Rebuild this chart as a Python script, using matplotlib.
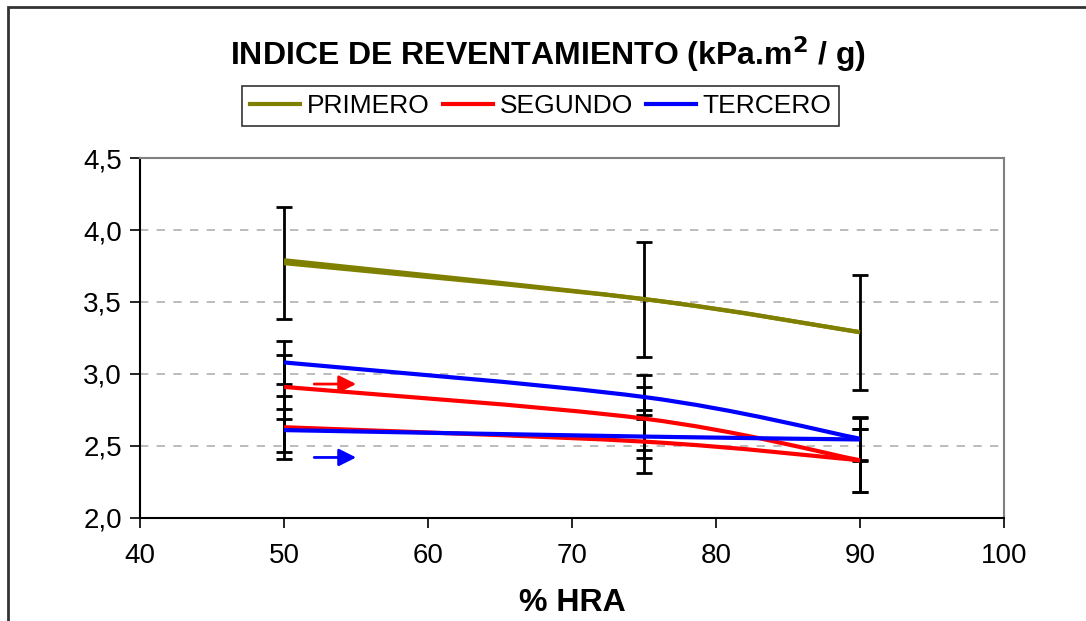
import matplotlib
matplotlib.use("Agg")
import matplotlib.pyplot as plt
from matplotlib.path import Path
from matplotlib.patches import PathPatch, Rectangle
from matplotlib.lines import Line2D

plt.rcParams['font.family'] = ['Liberation Sans', 'DejaVu Sans']

# % HRA
hra = [50, 75, 90]

# each series has two curves (ida / vuelta)
primero_a = [3.79, 3.52, 3.29]
primero_b = [3.77, 3.52, 3.29]
segundo_a = [2.91, 2.69, 2.40]
segundo_b = [2.63, 2.53, 2.40]
tercero_a = [3.08, 2.84, 2.55]
tercero_b = [2.61, 2.565, 2.545]

err_primero = [0.39, 0.40, 0.40]
err_segundo = [0.22, 0.22, 0.22]
err_tercero = [0.15, 0.15, 0.15]

series = [
    ("PRIMERO", "#808000", [primero_a, primero_b], err_primero),
    ("SEGUNDO", "#ff0000", [segundo_a, segundo_b], err_segundo),
    ("TERCERO", "#0000ff", [tercero_a, tercero_b], err_tercero),
]


def smooth_path(xs, ys):
    # curva suavizada tipo Excel (bezier por los puntos)
    pts = list(zip(xs, ys))
    verts = [pts[0]]
    codes = [Path.MOVETO]
    n = len(pts)
    for i in range(n - 1):
        p0 = pts[i - 1] if i > 0 else pts[i]
        p1 = pts[i]
        p2 = pts[i + 1]
        p3 = pts[i + 2] if i + 2 < n else pts[i + 1]
        c1 = (p1[0] + (p2[0] - p0[0]) / 6, p1[1] + (p2[1] - p0[1]) / 6)
        c2 = (p2[0] - (p3[0] - p1[0]) / 6, p2[1] - (p3[1] - p1[1]) / 6)
        verts += [c1, c2, p2]
        codes += [Path.CURVE4] * 3
    return Path(verts, codes)


fig = plt.figure(figsize=(10.86, 6.21), dpi=100)
ax = fig.add_axes([0.129, 0.166, 0.7955, 0.5795])

# barras de error (la de PRIMERO solo una vez)
for name, color, curves, err in series:
    ax.errorbar(hra, curves[-1], yerr=err, fmt='none', ecolor='black',
                elinewidth=2, capsize=6, capthick=2, zorder=2)
    if name != "PRIMERO":
        ax.errorbar(hra, curves[0], yerr=err, fmt='none', ecolor='black',
                    elinewidth=2, capsize=6, capthick=2, zorder=2)
for name, color, curves, err in series:
    for ys in curves:
        ax.add_patch(PathPatch(smooth_path(hra, ys), fill=False,
                               edgecolor=color, lw=3, zorder=3))

ax.set_xlim(40, 100)
ax.set_ylim(2.0, 4.5)
ax.set_xticks([40, 50, 60, 70, 80, 90, 100])
ax.set_yticks([2.0, 2.5, 3.0, 3.5, 4.0, 4.5])
ax.set_yticklabels(["2,0", "2,5", "3,0", "3,5", "4,0", "4,5"])
ax.tick_params(axis='both', labelsize=20, length=7, width=1.2, direction='out')
ax.tick_params(axis='y', pad=6)
ax.tick_params(axis='x', pad=11)
for v in [2.5, 3.0, 3.5, 4.0]:
    ax.axhline(v, color='#b0b0b0', lw=1.2, ls=(0, (5, 5)), zorder=1)
for s in ax.spines.values():
    s.set_linewidth(1.5)
    s.set_color('black')
ax.spines['top'].set_color('#808080')
ax.spines['right'].set_color('#808080')

ax.set_xlabel("% HRA", fontsize=23, fontweight='bold', labelpad=14)

# flechas de sentido
ax.annotate("", xy=(55.2, 2.93), xytext=(51.9, 2.93),
            arrowprops=dict(arrowstyle='-|>', color='#ff0000', lw=2, mutation_scale=26))
ax.annotate("", xy=(55.2, 2.42), xytext=(51.9, 2.42),
            arrowprops=dict(arrowstyle='-|>', color='#0000ff', lw=2, mutation_scale=26))

fig.text(0.505, 0.913, "INDICE DE REVENTAMIENTO (kPa.m$^{\\mathbf{2}}$ / g)",
         ha='center', va='center', fontsize=23, fontweight='bold')

handles = [Line2D([], [], color=c, lw=3) for _, c, _, _ in series]
leg = fig.legend(handles, [s[0] for s in series], ncol=3, loc='center',
                 bbox_to_anchor=(0.498, 0.829), fontsize=19, frameon=True,
                 fancybox=False, edgecolor='black', handlelength=1.9,
                 handletextpad=0.25, columnspacing=0.5, borderpad=0.3)
leg.get_frame().set_linewidth(1.2)

fig.patches.append(Rectangle((8 / 1086, -0.1), 1.2, 1.1 - 7 / 621,
                             transform=fig.transFigure, fill=False,
                             edgecolor='#333333', lw=2))

fig.savefig("out.png", dpi=100)
